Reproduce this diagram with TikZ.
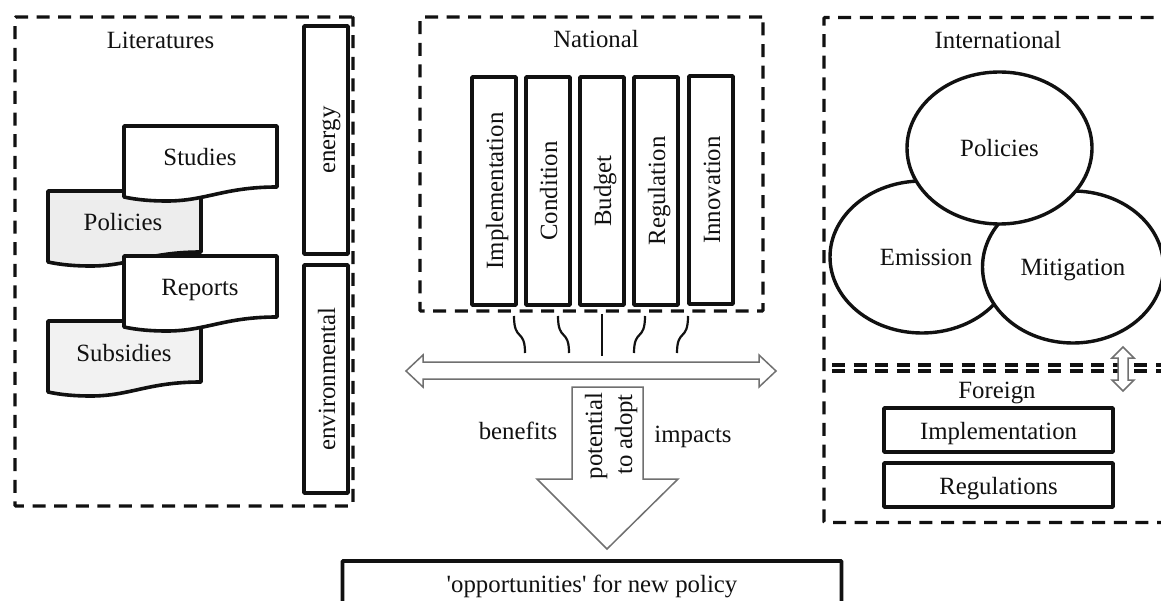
\documentclass[tikz,border=0pt]{standalone}
\usepackage{fontspec}
\setmainfont{Liberation Serif}
\newfontfamily\plainq{Liberation Serif}
\usetikzlibrary{shapes.geometric}
\definecolor{inkk}{HTML}{111111}
\definecolor{arrowgray}{HTML}{707070}
\tikzset{
  txt/.style={inner sep=0pt,text=inkk,text height=20pt,text depth=2pt,font=\fontsize{24.8}{28}\selectfont},
  region/.style={draw=inkk,line width=3.4pt,dash pattern=on 13pt off 8.6pt,rounded corners=1pt},
  hbox/.style={draw=inkk,line width=3.8pt,fill=white,rounded corners=0.8pt,inner sep=0pt,txt},
  bubble/.style={draw=inkk,line width=3.4pt,fill=white,ellipse,inner sep=0pt,txt},
  wave/.style={draw=inkk,line width=3.6pt,line join=round},
  link/.style={draw=inkk,line width=2.2pt},
  block/.style={draw=arrowgray,line width=1.5pt,fill=white,line join=miter}
}
\newcommand{\docshape}[3]{%
  \path[wave,fill=#3,shift={(#1,#2)}] (0,0) -- (153,0) -- (153,61)
    .. controls (100,61) and (82,75) .. (43,75)
    .. controls (28,75) and (14,74) .. (0,71) -- cycle;}
\begin{document}
\begin{tikzpicture}[x=1pt,y=-1pt]
\useasboundingbox (0,0) rectangle (1161,601);
\fill[white] (0,0) rectangle (1161,601);
\begin{scope}
\clip (0,0) rectangle (1161,601);
% Literatures
\node[region,minimum width=338pt,minimum height=489pt] (litregion) at (184,261.5) {};
\node[txt] (littitle) at (160.5,39.5) {Literatures};
\node[hbox,rotate=90,minimum width=228pt,minimum height=44pt] (energy) at (326,140) {energy};
\node[hbox,rotate=90,minimum width=228pt,minimum height=44pt] (environmental) at (326,379) {environmental};
\docshape{48}{321}{black!5}
\docshape{48}{191}{black!7}
\docshape{124}{256}{white}
\docshape{124}{126}{white}
\node[txt] (studies) at (200,157) {Studies};
\node[txt] (policiesdoc) at (123,222) {Policies};
\node[txt] (reports) at (200,287) {Reports};
\node[txt] (subsidies) at (124,352) {Subsidies};
% National
\node[region,minimum width=343pt,minimum height=294pt] (natregion) at (591.5,164) {};
\node[txt] (nattitle) at (596,39) {National};
\node[hbox,rotate=90,minimum width=228pt,minimum height=44pt] (nimp) at (494,191) {Implementation};
\node[hbox,rotate=90,minimum width=228pt,minimum height=44pt] (ncon) at (548,191) {Condition};
\node[hbox,rotate=90,minimum width=228pt,minimum height=44pt] (nbud) at (602,191) {Budget};
\node[hbox,rotate=90,minimum width=228pt,minimum height=44pt] (nreg) at (656,191) {Regulation};
\node[hbox,rotate=90,minimum width=228pt,minimum height=44pt] (ninn) at (711,190) {Innovation};
% connectors
\coordinate (b1) at (514,316); \coordinate (e1) at (525,353);
\coordinate (b2) at (558,316); \coordinate (e2) at (569,353);
\coordinate (b3) at (602,314); \coordinate (e3) at (602,356);
\coordinate (b4) at (645,316); \coordinate (e4) at (634,353);
\coordinate (b5) at (688,316); \coordinate (e5) at (677,353);
\draw[link] (b1) .. controls (514,342) and (525,328) .. (e1);
\draw[link] (b2) .. controls (558,342) and (569,328) .. (e2);
\draw[link] (b3) -- (e3);
\draw[link] (b4) .. controls (645,342) and (634,328) .. (e4);
\draw[link] (b5) .. controls (688,342) and (677,328) .. (e5);
% arrows
\path[block] (406,371) -- (423,355) -- (423,362) -- (759,362) -- (759,355) -- (776,371) -- (759,387) -- (759,379) -- (423,379) -- (423,387) -- cycle;
\path[block] (572,387) -- (643,387) -- (643,479) -- (678,479) -- (607,549) -- (537,479) -- (572,479) -- cycle;
\node[txt,rotate=90] (potential) at (593,436) {potential};
\node[txt,rotate=90] (toadopt) at (623,434.5) {to adopt};
\node[txt] (benefits) at (518,430) {benefits};
\node[txt] (impacts) at (693,433) {impacts};
% bottom box
\node[hbox,minimum width=499pt,minimum height=70pt] (opportunity) at (592,596) {};
\node[txt] (opptext) at (592,583) {\plainq 'opportunities' for new policy};
% International
\coordinate (ia) at (824,522.5); \coordinate (ib) at (824,17.5); \coordinate (ic) at (1170,17.5);
\coordinate (fa) at (1170,522.5);
\coordinate (d1a) at (832,365); \coordinate (d1b) at (1170,365);
\coordinate (d2a) at (832,371); \coordinate (d2b) at (1170,371);
\draw[region] (fa) -- (ia) -- (ib) -- (ic);
\draw[region] (d1a) -- (d1b);
\draw[region] (d2a) -- (d2b);
\node[txt] (inttitle) at (998,40) {International};
\node[bubble,minimum width=184pt,minimum height=152pt] (emission) at (922,257) {\hspace{8pt}Emission};
\node[bubble,minimum width=181pt,minimum height=152pt] (mitigation) at (1073,267) {Mitigation};
\node[bubble,minimum width=185pt,minimum height=152pt] (policies) at (999.5,148) {Policies\hspace{5pt}};
\path[block] (1123,347) -- (1134,358) -- (1128,358) -- (1128,380) -- (1134,380) -- (1123,391) -- (1112,380) -- (1118,380) -- (1118,358) -- (1112,358) -- cycle;
\node[txt] (foreign) at (997,389) {Foreign};
\node[hbox,minimum width=229pt,minimum height=44pt] (fimp) at (998.5,430) {Implementation};
\node[hbox,minimum width=229pt,minimum height=44pt] (freg) at (998.5,485) {Regulations};
\end{scope}
\end{tikzpicture}
\end{document}
